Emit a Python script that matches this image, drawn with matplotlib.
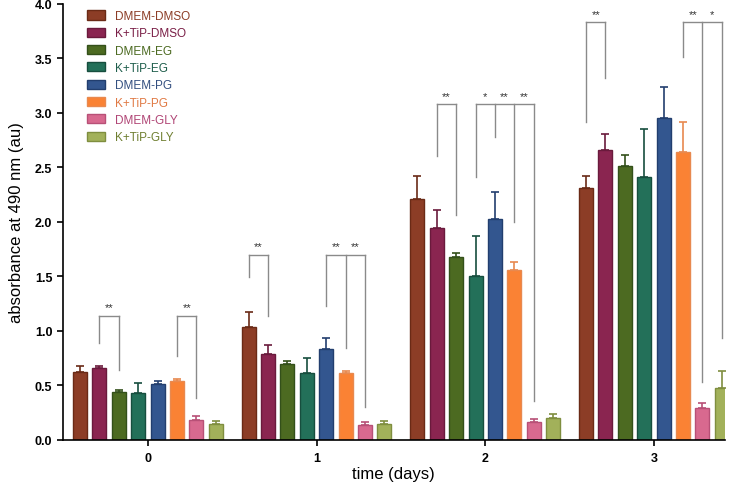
import numpy as np
import matplotlib.pyplot as plt

# -----------------------------
# Data
# -----------------------------
days = [0, 1, 2, 3]
groups = ["DMEM-DMSO", "K+TiP-DMSO", "DMEM-EG", "K+TiP-EG",
          "DMEM-PG", "K+TiP-PG", "DMEM-GLY", "K+TiP-GLY"]

# mean absorbance per group, one list per day
means = {
    "DMEM-DMSO":  [0.62, 1.04, 2.21, 2.31],
    "K+TiP-DMSO": [0.66, 0.79, 1.94, 2.66],
    "DMEM-EG":    [0.44, 0.70, 1.68, 2.51],
    "K+TiP-EG":   [0.43, 0.61, 1.50, 2.41],
    "DMEM-PG":    [0.51, 0.83, 2.03, 2.95],
    "K+TiP-PG":   [0.54, 0.61, 1.56, 2.64],
    "DMEM-GLY":   [0.18, 0.14, 0.16, 0.29],
    "K+TiP-GLY":  [0.15, 0.15, 0.20, 0.48],
}
errors = {
    "DMEM-DMSO":  [0.06, 0.13, 0.21, 0.11],
    "K+TiP-DMSO": [0.02, 0.08, 0.17, 0.15],
    "DMEM-EG":    [0.02, 0.02, 0.03, 0.10],
    "K+TiP-EG":   [0.09, 0.14, 0.37, 0.44],
    "DMEM-PG":    [0.03, 0.10, 0.24, 0.29],
    "K+TiP-PG":   [0.02, 0.02, 0.07, 0.28],
    "DMEM-GLY":   [0.04, 0.02, 0.03, 0.05],
    "K+TiP-GLY":  [0.02, 0.02, 0.04, 0.15],
}

face_colors = ["#8c3d26", "#8a2550", "#4c6a21", "#237059",
               "#33568f", "#fa8234", "#d8698f", "#a2b15a"]
edge_colors = ["#6a2a16", "#6a1a3c", "#33501a", "#174e3e",
               "#223e6e", "#e8894f", "#b85077", "#7f8e3f"]
text_colors = ["#8c3d26", "#7a1f47", "#4c6a21", "#1f5e4c",
               "#334f80", "#e07a45", "#b04575", "#6f7f30"]

# significance brackets: day, top, group indices of legs, leg bottoms, stars
bracket_day = [0, 0, 1, 1, 2, 2, 3, 3]
bracket_top = [1.14, 1.14, 1.70, 1.70, 3.08, 3.08, 3.83, 3.83]
bracket_legs = [[1, 2], [5, 6], [0, 1], [4, 5, 6],
                [1, 2], [3, 4, 5, 6], [0, 1], [5, 6, 7]]
bracket_bottoms = [[0.89, 0.64], [0.77, 0.38], [1.49, 1.14], [1.23, 0.84, 0.30],
                   [2.60, 2.06], [2.41, 2.78, 2.00, 0.36], [2.92, 3.32],
                   [3.51, 0.53, 0.93]]
bracket_stars = [["**"], ["**"], ["**"], ["**", "**"],
                 ["**"], ["*", "**", "**"], ["**"], ["**", "*"]]

# -----------------------------
# Plot
# -----------------------------
plt.rcParams['font.family'] = ['Liberation Sans', 'DejaVu Sans']

fig = plt.figure(figsize=(7.38, 4.85), dpi=100)
ax = fig.add_axes([0.085, 0.091, 0.897, 0.899])

step = 0.115
width = 0.083
x_days = np.array(days, dtype=float)

def xpos(day, i):
    return day + (i - 3.5) * step

for i, g in enumerate(groups):
    xs = x_days + (i - 3.5) * step
    ax.bar(xs, means[g], width, color=face_colors[i], edgecolor=edge_colors[i],
           linewidth=1.0, label=g, zorder=2)
    ax.errorbar(xs, means[g], yerr=[np.zeros(len(days)), errors[g]], fmt='none',
                ecolor=edge_colors[i], elinewidth=1.2, capsize=3, capthick=1.2, zorder=1)

for d, top, legs, bottoms, stars in zip(bracket_day, bracket_top, bracket_legs,
                                        bracket_bottoms, bracket_stars):
    xl = [xpos(d, i) for i in legs]
    ax.plot([xl[0], xl[-1]], [top, top], color="#8a8a8a", lw=1.0, zorder=3)
    for x, b in zip(xl, bottoms):
        ax.plot([x, x], [b, top], color="#8a8a8a", lw=1.0, zorder=3)
    for k, s in enumerate(stars):
        ax.text((xl[k] + xl[k + 1]) / 2, top + 0.03, s, ha='center', va='bottom',
                fontsize=8, color="#333333")

ax.set_xlim(-0.505, 3.42)
ax.set_ylim(0, 4.0)
ax.set_yticks(np.arange(0, 4.01, 0.5))
ax.set_yticklabels([f"{v:.1f}" for v in np.arange(0, 4.01, 0.5)],
                   fontsize=9, fontweight='bold')
ax.set_xticks(days)
ax.set_xticklabels([str(d) for d in days], fontsize=9, fontweight='bold')
ax.tick_params(axis='both', direction='out', length=4, width=1.2)
ax.tick_params(axis='x', pad=5)
for s in ["top", "right"]:
    ax.spines[s].set_visible(False)
for s in ["left", "bottom"]:
    ax.spines[s].set_linewidth(1.2)

ax.set_xlabel("time (days)", fontsize=12, labelpad=1)
ax.set_ylabel("absorbance at 490 nm (au)", fontsize=12, labelpad=8)

leg = ax.legend(loc='upper left', bbox_to_anchor=(0.02, 1.01), frameon=False,
                fontsize=8.5, handlelength=1.6, handleheight=0.8,
                labelspacing=0.45, handletextpad=0.8)
for t, c in zip(leg.get_texts(), text_colors):
    t.set_color(c)

plt.savefig("out.png", dpi=100)
